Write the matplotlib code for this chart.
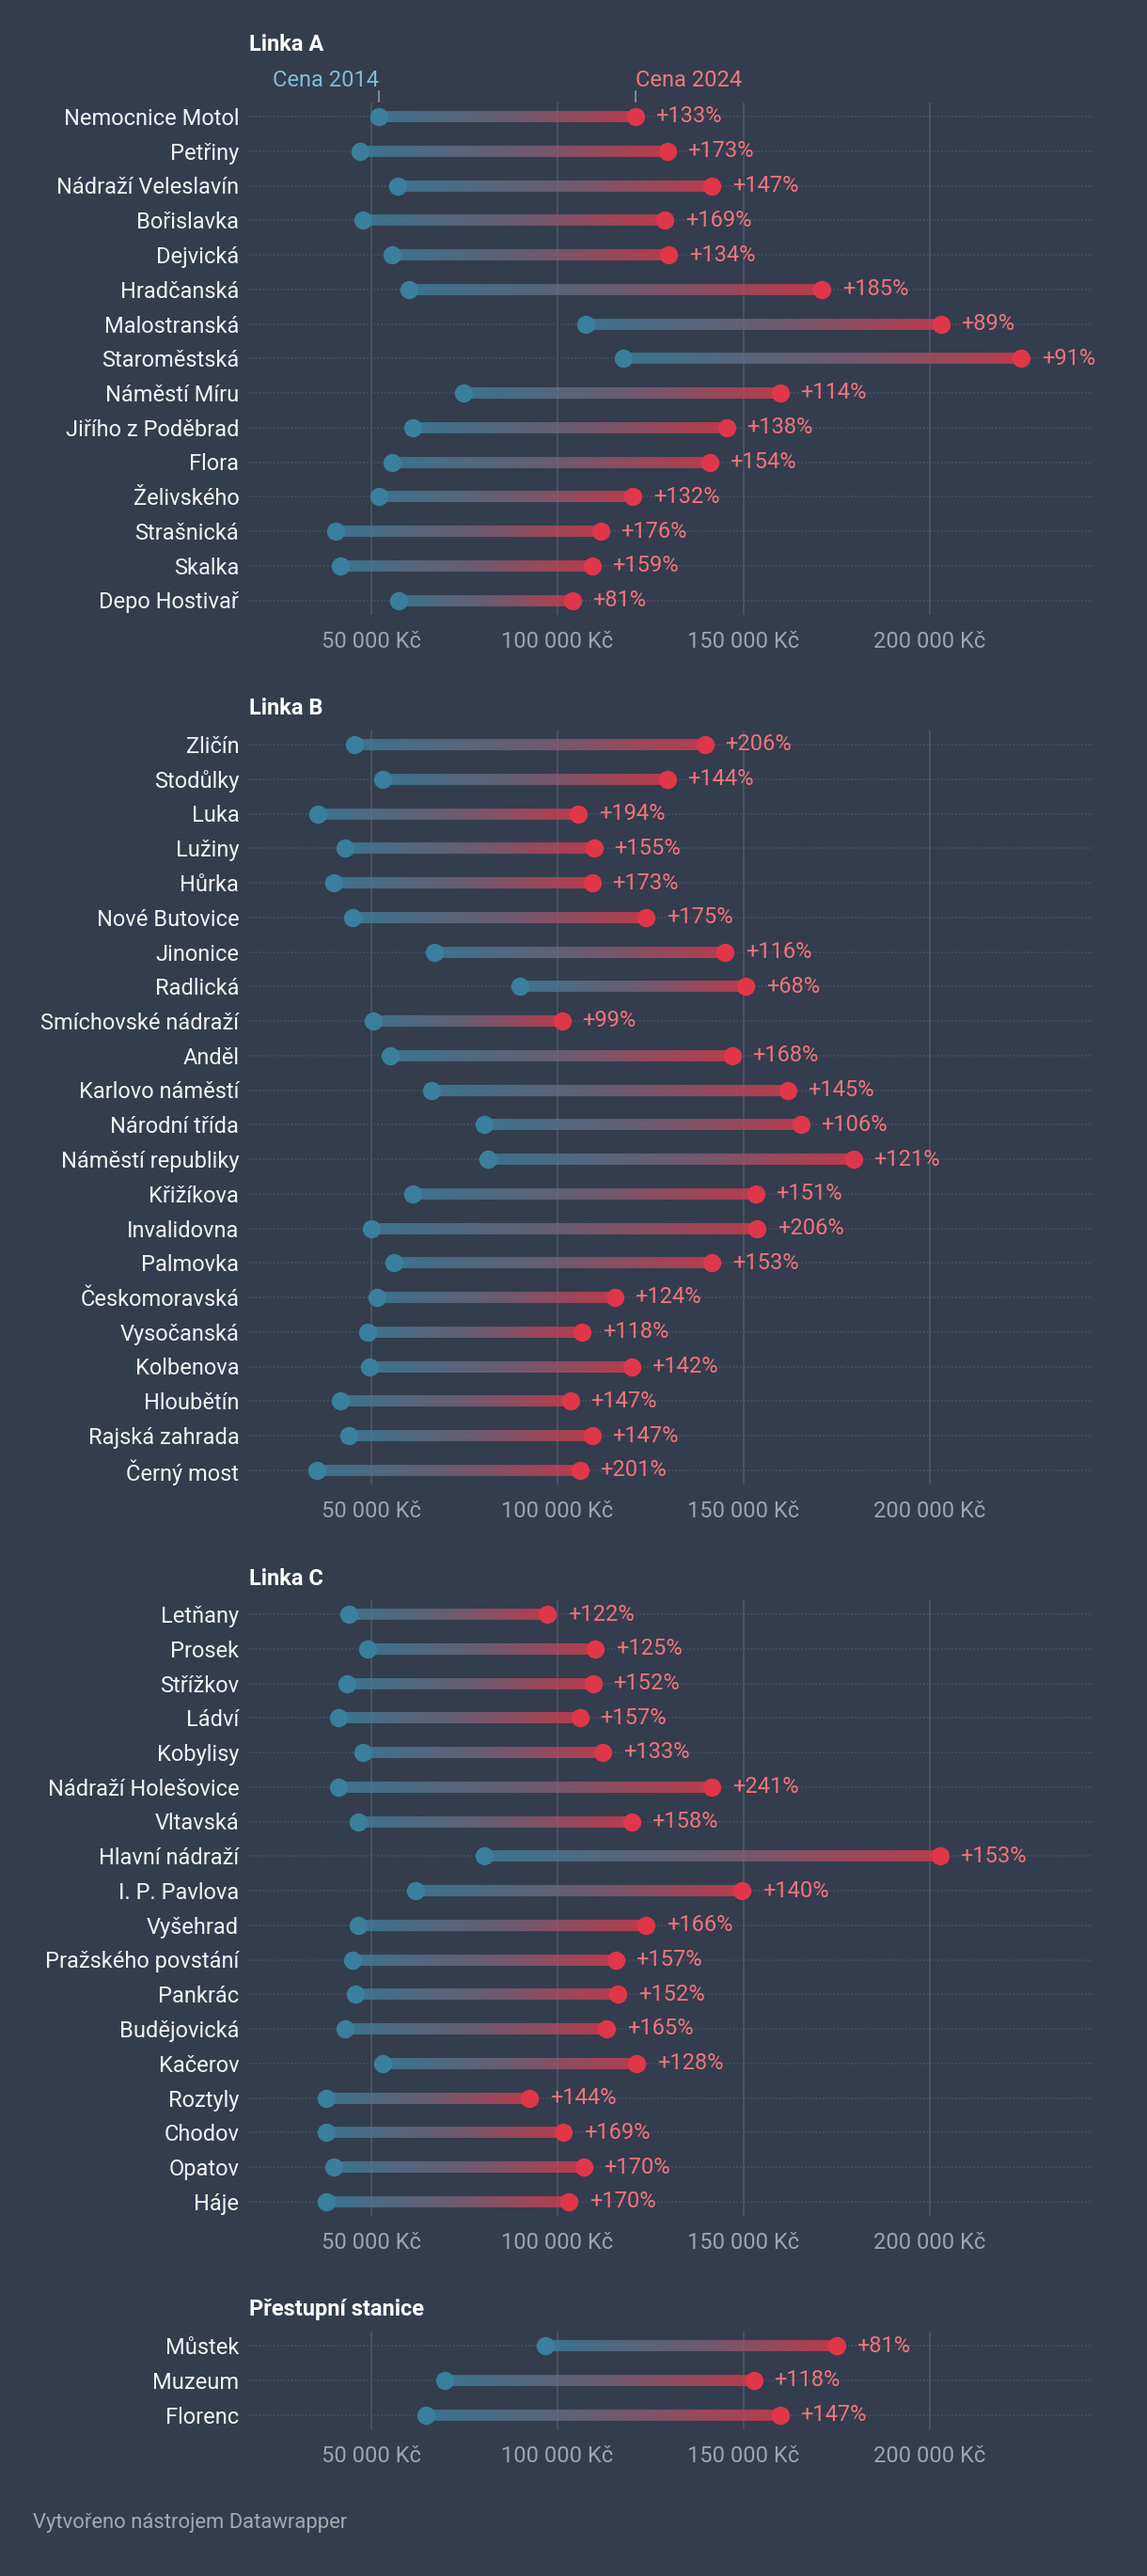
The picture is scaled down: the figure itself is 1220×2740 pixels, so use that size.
import numpy as np
import matplotlib
matplotlib.use("Agg")
import matplotlib.pyplot as plt
import matplotlib.transforms as mtransforms
from matplotlib.collections import LineCollection
from matplotlib.colors import LinearSegmentedColormap

plt.rcParams['font.family'] = ['Roboto', 'DejaVu Sans']

# --- data -------------------------------------------------------------
names_a = ["Nemocnice Motol", "Petřiny", "Nádraží Veleslavín", "Bořislavka", "Dejvická",
           "Hradčanská", "Malostranská", "Staroměstská", "Náměstí Míru", "Jiřího z Poděbrad",
           "Flora", "Želivského", "Strašnická", "Skalka", "Depo Hostivař"]
a_2014 = [52000, 47000, 57100, 47800, 55500, 60200, 107700, 117700, 74800, 61200,
          55500, 52000, 40400, 41700, 57500]
a_2024 = [120900, 129500, 141500, 128900, 129900, 171100, 203000, 224600, 159800, 145500,
          140900, 120300, 111600, 109300, 104100]
a_pct = [133, 173, 147, 169, 134, 185, 89, 91, 114, 138, 154, 132, 176, 159, 81]

names_b = ["Zličín", "Stodůlky", "Luka", "Lužiny", "Hůrka", "Nové Butovice", "Jinonice",
           "Radlická", "Smíchovské nádraží", "Anděl", "Karlovo náměstí", "Národní třída",
           "Náměstí republiky", "Křižíkova", "Invalidovna", "Palmovka", "Českomoravská",
           "Vysočanská", "Kolbenova", "Hloubětín", "Rajská zahrada", "Černý most"]
b_2014 = [45500, 53000, 35800, 42900, 40000, 44900, 67100, 90000, 50600, 55100, 66300,
          80300, 81500, 61200, 50000, 56100, 51600, 49000, 49600, 41700, 44100, 35400]
b_2024 = [139600, 129500, 105700, 109800, 109300, 123800, 145100, 150600, 101200, 147000,
          161800, 165400, 179500, 153300, 153700, 141500, 115400, 106700, 119900, 103500,
          109300, 106100]
b_pct = [206, 144, 194, 155, 173, 175, 116, 68, 99, 168, 145, 106, 121, 151, 206, 153,
         124, 118, 142, 147, 147, 201]

names_c = ["Letňany", "Prosek", "Střížkov", "Ládví", "Kobylisy", "Nádraží Holešovice",
           "Vltavská", "Hlavní nádraží", "I. P. Pavlova", "Vyšehrad", "Pražského povstání",
           "Pankrác", "Budějovická", "Kačerov", "Roztyly", "Chodov", "Opatov", "Háje"]
c_2014 = [43900, 49000, 43500, 41300, 47800, 41300, 46500, 80300, 62000, 46500, 44900,
          45900, 42900, 53000, 38000, 38000, 40000, 38000]
c_2024 = [97400, 110200, 109600, 106100, 112200, 141500, 119900, 202800, 149600, 123800,
          115700, 116300, 113200, 121300, 92500, 101600, 107100, 103200]
c_pct = [122, 125, 152, 157, 133, 241, 158, 153, 140, 166, 157, 152, 165, 128, 144, 169,
         170, 170]

names_p = ["Můstek", "Muzeum", "Florenc"]
p_2014 = [96700, 69700, 64800]
p_2024 = [175000, 152800, 159800]
p_pct = [81, 118, 147]

titles = ["Linka A", "Linka B", "Linka C", "Přestupní stanice"]
ticks = [50000, 100000, 150000, 200000]

# --- style --------------------------------------------------------------
BG = '#333d4d'
BLUE = '#3a7f9c'
RED = '#e0364a'
PCT = '#f2737b'
TXT = '#f2f2f2'
GREY = '#9ea4ac'
GRID = '#4a5464'
grad = LinearSegmentedColormap.from_list('g', ['#3d7f9b', '#74647a', '#d63b4d'])

W, H = 1220, 2740
fig = plt.figure(figsize=(W / 100, H / 100), dpi=100, facecolor=BG)

ROW = 36.75
PAD = 0.41
LEFT, RIGHT = 264, 1162
panel_rows = [124, 792, 1717, 2495]   # pixel y of the first row of each panel

panels = [(names_a, a_2014, a_2024, a_pct), (names_b, b_2014, b_2024, b_pct),
          (names_c, c_2014, c_2024, c_pct), (names_p, p_2014, p_2024, p_pct)]

for k, (names, v14, v24, pct) in enumerate(panels):
    n = len(names)
    top = panel_rows[k] - PAD * ROW
    h = (n - 1 + 2 * PAD) * ROW
    ax = fig.add_axes([LEFT / W, 1 - (top + h) / H, (RIGHT - LEFT) / W, h / H])
    ax.set_facecolor(BG)
    ax.set_xlim(17000, 243700)
    ax.set_ylim(n - 1 + PAD, -PAD)
    for s in ax.spines.values():
        s.set_visible(False)

    for t in ticks:
        ax.axvline(t, color=GRID, lw=1.3, zorder=0)
    for i in range(n):
        ax.axhline(i, color='#4c5666', lw=1.1, ls=(0, (1, 1.5)), zorder=0)

    # gradient bars
    for i in range(n):
        xs = np.linspace(v14[i], v24[i], 80)
        segs = [[(xs[j], i), (xs[j + 1], i)] for j in range(len(xs) - 1)]
        cols = [grad(f) for f in np.linspace(0, 1, len(segs))]
        cols = [(r, g, b, 0.82) for r, g, b, _ in cols]
        lc = LineCollection(segs, colors=cols, linewidths=8.6, capstyle='butt', zorder=2)
        ax.add_collection(lc)
    y = np.arange(n)
    ax.scatter(v14, y, s=195, color=BLUE, zorder=3, linewidths=0)
    ax.scatter(v24, y, s=195, color=RED, zorder=3, linewidths=0)
    for i in range(n):
        ax.annotate(f"+{pct[i]}%", xy=(v24[i], i), xytext=(15.5, 0),
                    textcoords='offset points', ha='left', va='center',
                    color=PCT, fontsize=17)

    ax.set_yticks(y)
    ax.set_yticklabels(names, color=TXT, fontsize=17)
    ax.set_xticks(ticks)
    ax.set_xticklabels([f"{t // 1000} 000 Kč" for t in ticks], color=GREY, fontsize=17)
    ax.tick_params(axis='y', length=0, pad=7)
    ax.tick_params(axis='x', length=0, pad=12.5)

    ty = panel_rows[k] - (76 if k == 0 else 38)
    fig.text(265 / W, 1 - ty / H, titles[k], color='white', fontsize=17,
             fontweight='bold', ha='left', va='center')

    if k == 0:
        tr = mtransforms.blended_transform_factory(ax.transData, fig.transFigure)
        ax.text(v14[0], 1 - 86 / H, "Cena 2014", transform=tr, ha='right', va='center',
                color='#7fbcd8', fontsize=17, clip_on=False)
        ax.text(v24[0], 1 - 86 / H, "Cena 2024", transform=tr, ha='left', va='center',
                color='#f2787e', fontsize=17, clip_on=False)
        for xv in (v14[0], v24[0]):
            ax.plot([xv, xv], [1 - 97 / H, 1 - 108 / H], transform=tr, color='#8c96a2',
                    lw=1.2, clip_on=False)

fig.text(35 / W, 1 - 2683 / H, "Vytvořeno nástrojem Datawrapper", color='#a3a9b0',
         fontsize=15.8, ha='left', va='center')

fig.savefig('out.png', dpi=100, facecolor=BG)
